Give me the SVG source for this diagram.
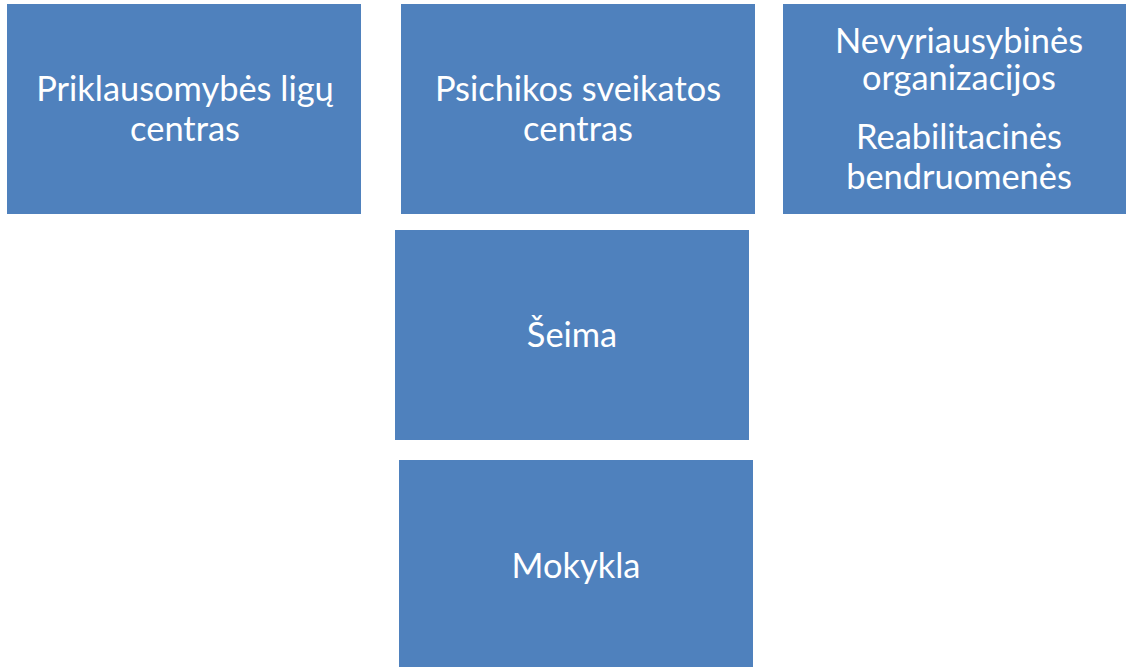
<svg xmlns="http://www.w3.org/2000/svg" width="1126" height="667" viewBox="0 0 1126 667">
<style>
.box{fill:#4F81BD;}
.t{font-family:Lato,"Open Sans","Liberation Sans",sans-serif;font-size:34.4px;fill:#FFFFFF;text-anchor:middle;}
</style>
<rect width="1126" height="667" fill="#FFFFFF"/>
<g id="node-priklausomybes">
<rect class="box" x="7" y="4" width="354" height="210"/>
<text class="t" x="185" y="101">Priklausomybės ligų</text>
<text class="t" x="185" y="141">centras</text>
</g>
<g id="node-psichikos">
<rect class="box" x="401" y="4" width="354" height="210"/>
<text class="t" x="578" y="101">Psichikos sveikatos</text>
<text class="t" x="578" y="141">centras</text>
</g>
<g id="node-nevyriausybines">
<rect class="box" x="783" y="4" width="354" height="210"/>
<text class="t" x="959" y="53">Nevyriausybinės</text>
<text class="t" x="959" y="90">organizacijos</text>
<text class="t" x="959" y="149">Reabilitacinės</text>
<text class="t" x="959" y="189">bendruomenės</text>
</g>
<g id="node-seima">
<rect class="box" x="395" y="230" width="354" height="210"/>
<text class="t" x="572" y="347">Šeima</text>
</g>
<g id="node-mokykla">
<rect class="box" x="399" y="460" width="354" height="210"/>
<text class="t" x="576" y="578">Mokykla</text>
</g>
<g id="connectors"></g>
</svg>
